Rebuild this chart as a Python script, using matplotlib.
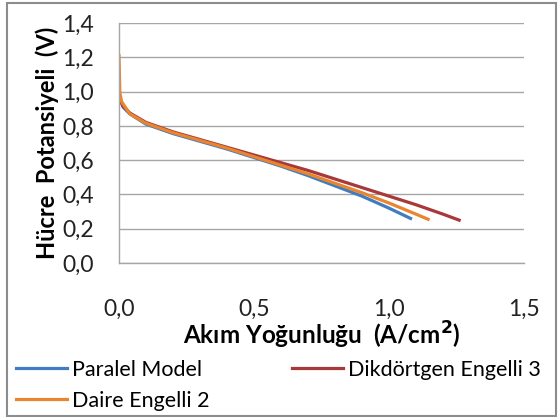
import matplotlib.pyplot as plt

plt.rcParams['font.family'] = ['Lato', 'DejaVu Sans']

# polarization curves, current density (A/cm2) vs cell potential (V)
paralel_x = [0, 0.005, 0.015, 0.04, 0.1, 0.2, 0.3, 0.4, 0.5, 0.6, 0.7, 0.8, 0.9, 1.0, 1.08]
paralel_y = [0.99, 0.95, 0.91, 0.87, 0.81, 0.755, 0.71, 0.665, 0.615, 0.565, 0.51, 0.45, 0.39, 0.32, 0.26]

dikdortgen_x = [0, 0.005, 0.015, 0.04, 0.1, 0.2, 0.3, 0.4, 0.5, 0.6, 0.7, 0.8, 0.9, 1.0, 1.1, 1.2, 1.26]
dikdortgen_y = [0.99, 0.95, 0.915, 0.875, 0.82, 0.765, 0.72, 0.675, 0.63, 0.585, 0.54, 0.49, 0.44, 0.39, 0.34, 0.285, 0.25]

daire_x = [0, 0.003, 0.01, 0.04, 0.1, 0.2, 0.3, 0.4, 0.5, 0.6, 0.7, 0.8, 0.9, 1.0, 1.1, 1.145]
daire_y = [1.21, 0.99, 0.94, 0.87, 0.815, 0.76, 0.715, 0.67, 0.62, 0.57, 0.52, 0.465, 0.41, 0.35, 0.285, 0.255]

x_ticks = [0.0, 0.5, 1.0, 1.5]
y_ticks = [0.0, 0.2, 0.4, 0.6, 0.8, 1.0, 1.2, 1.4]

fig = plt.figure(figsize=(5.58, 4.17), dpi=100)
ax = fig.add_axes([0.2133, 0.3693, 0.7257, 0.5755])

l1, = ax.plot(paralel_x, paralel_y, color='#3F7CC0', lw=2.3, label='Paralel Model')
l2, = ax.plot(dikdortgen_x, dikdortgen_y, color='#A8383A', lw=2.3, label='Dikdörtgen Engelli 3')
l3, = ax.plot(daire_x, daire_y, color='#E8852E', lw=2.3, label='Daire Engelli 2')

ax.set_xlim(0, 1.5)
ax.set_ylim(0, 1.4)
ax.set_xticks(x_ticks)
ax.set_yticks(y_ticks)
ax.set_xticklabels([f'{v:.1f}'.replace('.', ',') for v in x_ticks])
ax.set_yticklabels([f'{v:.1f}'.replace('.', ',') for v in y_ticks])
ax.tick_params(axis='both', length=0, labelsize=16.5, colors='#222222')
ax.tick_params(axis='x', pad=26)
ax.tick_params(axis='y', pad=18)
ax.grid(axis='y', color='#a6a6a6', lw=1)
ax.set_axisbelow(True)
for s in ['top', 'right']:
    ax.spines[s].set_visible(False)
for s in ['left', 'bottom']:
    ax.spines[s].set_color('#a6a6a6')
    ax.spines[s].set_linewidth(1)

ax.set_xlabel('Akım Yoğunluğu  (A/cm$^\\mathbf{2}$)', fontsize=17.5, fontweight='bold', labelpad=0)
ax.set_ylabel('Hücre  Potansiyeli  (V)', fontsize=17, fontweight='bold', labelpad=2)

fig.legend(handles=[l1, l3, l2], loc='upper left', bbox_to_anchor=(0.029, 0.137),
           ncol=2, frameon=False, fontsize=15.5, handlelength=2.37, handletextpad=0.23,
           columnspacing=3.83, labelspacing=0.5, borderaxespad=0, borderpad=0)

# outer chart border
fig.patches.append(plt.Rectangle((0.012, 0.003), 0.985, 0.99, transform=fig.transFigure,
                                 fill=False, edgecolor='#8c8c8c', lw=1.5))

fig.savefig('out.png', dpi=100)
